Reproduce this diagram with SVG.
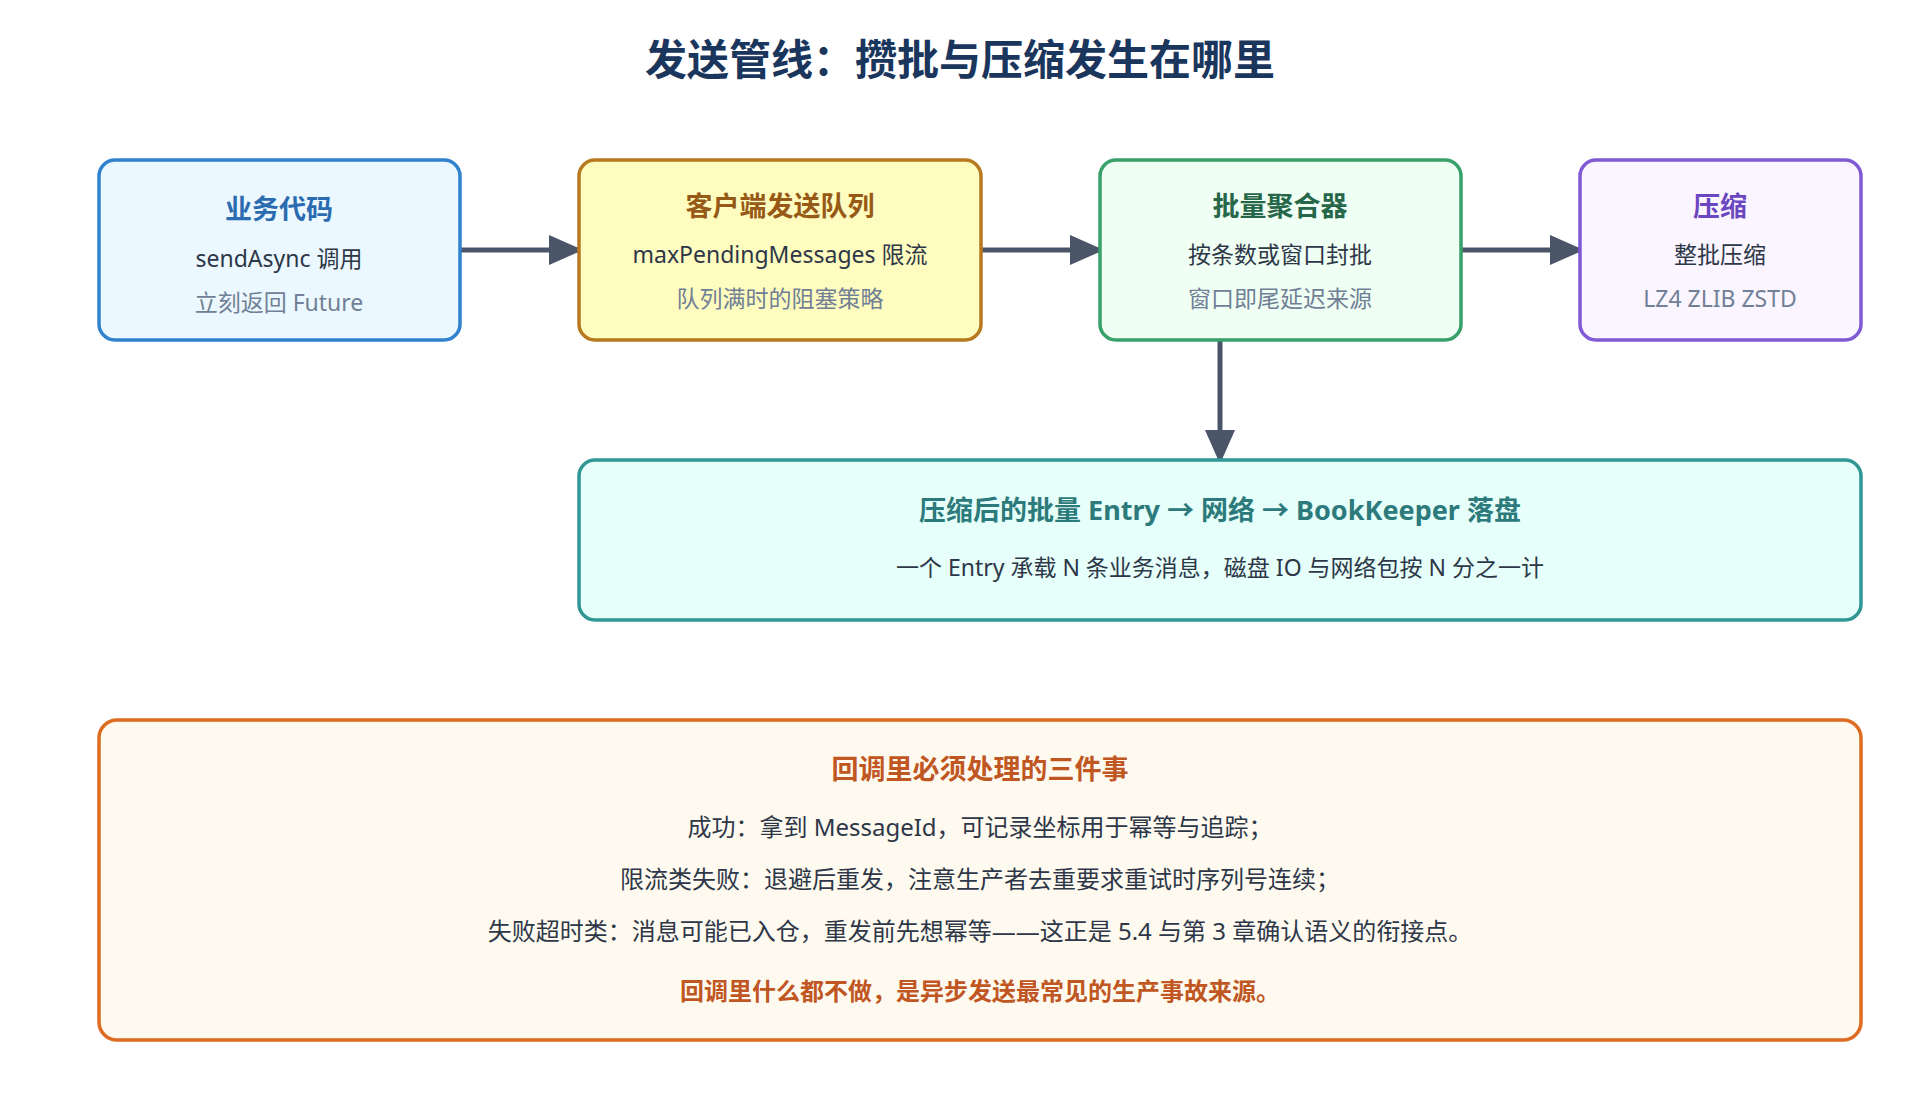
<svg xmlns="http://www.w3.org/2000/svg" width="1920" height="1120" viewBox="0 0 1920 1120">
<defs>
<marker id="ah" markerWidth="10" markerHeight="10" refX="9" refY="5" orient="auto" markerUnits="userSpaceOnUse" viewBox="0 0 10 10">
<path d="M0,0 L10,5 L0,10 z" fill="#4a5568"/></marker>
<style>
text{font-family:"Noto Sans","Noto Sans CJK SC",sans-serif;text-anchor:middle}
.t{font-size:27px;font-weight:bold}
.m{font-size:23px;fill:#2d3748}
.s{font-size:23px;fill:#718096}
.b{font-size:24px;fill:#2d3748}
.box{stroke-width:3.5}
.c{stroke:#4a5568;stroke-width:5;fill:none;marker-end:url(#ah)}
</style>
<marker id="ah2" markerWidth="34" markerHeight="30" refX="30" refY="15" orient="auto" markerUnits="userSpaceOnUse"><path d="M0,0 L34,15 L0,30 z" fill="#4a5568"/></marker>
</defs>
<rect width="1920" height="1120" fill="#ffffff"/>
<text x="960" y="75" style="font-size:42px;font-weight:bold;fill:#1a365d">发送管线：攒批与压缩发生在哪里</text>
<g id="connectors">
<line x1="460" y1="250" x2="579" y2="250" stroke="#4a5568" stroke-width="5" marker-end="url(#ah2)"/>
<line x1="981" y1="250" x2="1100" y2="250" stroke="#4a5568" stroke-width="5" marker-end="url(#ah2)"/>
<line x1="1461" y1="250" x2="1580" y2="250" stroke="#4a5568" stroke-width="5" marker-end="url(#ah2)"/>
<line x1="1220" y1="340" x2="1220" y2="460" stroke="#4a5568" stroke-width="5" marker-end="url(#ah2)"/>
</g>
<g id="n1">
<rect class="box" x="99" y="160" width="361" height="180" rx="16" fill="#ebf8ff" stroke="#3182ce"/>
<text class="t" x="279" y="219" fill="#2b6cb0">业务代码</text>
<text class="m" x="279" y="267">sendAsync 调用</text>
<text class="s" x="279" y="311">立刻返回 Future</text>
</g>
<g id="n2">
<rect class="box" x="579" y="160" width="402" height="180" rx="16" fill="#fefcbf" stroke="#b7791f"/>
<text class="t" x="780" y="216" fill="#975a16">客户端发送队列</text>
<text class="m" x="780" y="263">maxPendingMessages 限流</text>
<text class="s" x="780" y="307">队列满时的阻塞策略</text>
</g>
<g id="n3">
<rect class="box" x="1100" y="160" width="361" height="180" rx="16" fill="#f0fff4" stroke="#38a169"/>
<text class="t" x="1280" y="216" fill="#276749">批量聚合器</text>
<text class="m" x="1280" y="263">按条数或窗口封批</text>
<text class="s" x="1280" y="307">窗口即尾延迟来源</text>
</g>
<g id="n4">
<rect class="box" x="1580" y="160" width="281" height="180" rx="16" fill="#faf5ff" stroke="#805ad5"/>
<text class="t" x="1720" y="216" fill="#6b46c1">压缩</text>
<text class="m" x="1720" y="263">整批压缩</text>
<text class="s" x="1720" y="307">LZ4 ZLIB ZSTD</text>
</g>
<g id="n5">
<rect class="box" x="579" y="460" width="1282" height="160" rx="16" fill="#e6fffa" stroke="#319795"/>
<text class="t" x="1220" y="520" fill="#2c7a7b">压缩后的批量 Entry → 网络 → BookKeeper 落盘</text>
<text class="m" x="1220" y="576">一个 Entry 承载 N 条业务消息，磁盘 IO 与网络包按 N 分之一计</text>
</g>
<g id="n6">
<rect class="box" x="99" y="720" width="1762" height="320" rx="18" fill="#fffaf0" stroke="#dd6b20"/>
<text class="t" x="980" y="779" fill="#c05621">回调里必须处理的三件事</text>
<text class="b" x="980" y="836">成功：拿到 MessageId，可记录坐标用于幂等与追踪；</text>
<text class="b" x="980" y="888">限流类失败：退避后重发，注意生产者去重要求重试时序列号连续；</text>
<text class="b" x="980" y="940">失败超时类：消息可能已入仓，重发前先想幂等——这正是 5.4 与第 3 章确认语义的衔接点。</text>
<text class="b" x="980" y="1000" style="font-weight:bold;fill:#c05621">回调里什么都不做，是异步发送最常见的生产事故来源。</text>
</g>
</svg>
